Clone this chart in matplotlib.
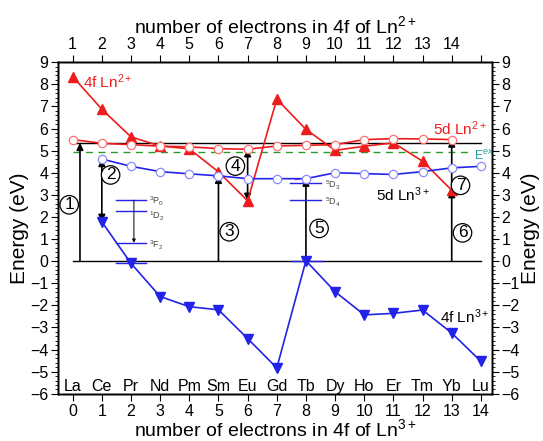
import matplotlib
matplotlib.use('Agg')
import matplotlib.pyplot as plt
from matplotlib.ticker import MultipleLocator
import numpy as np

plt.rcParams['font.family'] = ['Liberation Sans', 'DejaVu Sans']
plt.rcParams['mathtext.fontset'] = 'custom'
plt.rcParams['mathtext.rm'] = 'Liberation Sans'
plt.rcParams['mathtext.it'] = 'Liberation Sans:italic'

# data ------------------------------------------------------------
elements = ["La", "Ce", "Pr", "Nd", "Pm", "Sm", "Eu", "Gd",
            "Tb", "Dy", "Ho", "Er", "Tm", "Yb", "Lu"]
n_ln3 = list(range(15))
top_labels = [str(i) for i in range(1, 15)] + [""]

# 4f ground level of Ln2+ (La..Yb)
f4_ln2 = [8.35, 6.87, 5.62, 5.21, 5.08, 4.04, 2.73, 7.33,
          5.96, 5.01, 5.20, 5.35, 4.52, 3.21]
# lowest 5d level of Ln2+ (La..Yb)
d5_ln2 = [5.50, 5.33, 5.27, 5.20, 5.17, 5.09, 5.06, 5.21,
          5.24, 5.27, 5.50, 5.54, 5.53, 5.50]
# lowest 5d level of Ln3+ (Ce..Lu)
d5_ln3 = [4.62, 4.29, 4.05, 3.95, 3.86, 3.73, 3.73,
          3.73, 4.00, 3.96, 3.92, 4.05, 4.22, 4.29]
# 4f ground level of Ln3+ (Ce..Lu)
f4_ln3 = [1.78, -0.10, -1.60, -2.06, -2.20, -3.50, -4.83,
          0.02, -1.38, -2.43, -2.36, -2.21, -3.25, -4.53]

E_cb = 5.35      # black line
E_ex = 4.95      # green dashed line

# Pr3+ levels and Tb3+ levels
pr_levels = {"$^3$P$_0$": 2.76, "$^1$D$_2$": 2.26, "$^3$F$_2$": 0.83}
pr_ground = -0.10
tb_levels = {"$^5$D$_3$": 3.54, "$^5$D$_4$": 2.76}
tb_ground = 0.02

RED = '#ee1c1c'
BLUE = '#2323e8'

fig = plt.figure(figsize=(5.43, 4.41), dpi=100)
ax = fig.add_axes([0.107, 0.107, 0.799, 0.752])

x2 = n_ln3[:14]
x3 = n_ln3[1:]

ax.plot(x2, f4_ln2, color=RED, lw=1.2, marker='^', ms=6.5, zorder=4)
ax.plot(x2, d5_ln2, color=RED, lw=1.2, marker='o', ms=6,
        mfc='white', mec='#ff7070', mew=0.9, zorder=4)
ax.plot(x3, d5_ln3, color=BLUE, lw=1.2, marker='o', ms=6,
        mfc='white', mec='#8c8cff', mew=0.9, zorder=4)
ax.plot(x3, f4_ln3, color=BLUE, lw=1.2, marker='v', ms=6.5, zorder=4)

# reference lines
ax.plot([0, 14], [0, 0], color='k', lw=1.0, zorder=2)
ax.plot([0, 14], [E_cb, E_cb], color='k', lw=1.0, zorder=2)
ax.plot([0, 13.6], [E_ex, E_ex], color='#2a9a2a', lw=1.0, ls=(0, (5, 4)), zorder=2)
ax.text(13.75, 4.78, r"E$^{ex}$", color='#20a0a0', fontsize=9, va='center')


def arrow(x, y0, y1, style='-|>', lw=1.2, ms=10):
    ax.annotate('', xy=(x, y1), xytext=(x, y0),
                arrowprops=dict(arrowstyle=style, color='k', lw=lw,
                                shrinkA=0, shrinkB=0, mutation_scale=ms),
                zorder=3)


def circled(x, y, s):
    ax.text(x, y, s, fontsize=12.5, ha='center', va='center',
            bbox=dict(boxstyle='circle,pad=0.1', fc='white', ec='k', lw=0.9),
            zorder=5)


arrow(0.25, 0, E_cb)
arrow(1, d5_ln3[0], f4_ln3[0], style='<|-|>')
arrow(5, 0, d5_ln3[4])
arrow(6, f4_ln2[6], d5_ln2[6], style='<|-|>')
arrow(8, 0, d5_ln3[7])
arrow(13, 0, f4_ln2[13])
arrow(13, f4_ln2[13], d5_ln2[13])

circled(-0.12, 2.55, "1")
circled(1.3, 3.9, "2")
circled(5.37, 1.33, "3")
circled(5.58, 4.3, "4")
circled(8.45, 1.48, "5")
circled(13.37, 1.28, "6")
circled(13.3, 3.43, "7")

# Pr3+ levels
pr_offsets = {"$^3$P$_0$": -0.05, "$^1$D$_2$": -0.22, "$^3$F$_2$": -0.1}
for lab, e in pr_levels.items():
    ax.plot([1.5, 2.5], [e, e], color=BLUE, lw=1.0, zorder=3)
    ax.text(2.62, e + pr_offsets[lab], lab, fontsize=6.5, color='#444444', va='center')
ax.plot([1.5, 2.5], [pr_ground, pr_ground], color=BLUE, lw=1.0, zorder=3)
arrow(2.1, pr_levels["$^3$P$_0$"], pr_levels["$^3$F$_2$"], lw=0.7, ms=5)

# Tb3+ levels
for lab, e in tb_levels.items():
    ax.plot([7.47, 8.5], [e, e], color=BLUE, lw=1.0, zorder=3)
    ax.text(8.65, e - 0.1, lab, fontsize=6.5, color='#444444', va='center')
ax.plot([7.6, 7.95], [3.73, 3.73], color='#e040e0', lw=1.0, ls='--', zorder=3)
ax.plot([7.5, 8.55], [tb_ground, tb_ground], color=BLUE, lw=1.0, zorder=3)

# series labels
ax.text(0.35, 8.1, r"4f Ln$^{2+}$", color=RED, fontsize=11, va='center')
ax.text(12.35, 6.0, r"5d Ln$^{2+}$", color=RED, fontsize=11, va='center')
ax.text(10.4, 3.0, r"5d Ln$^{3+}$", color='k', fontsize=11, va='center')
ax.text(12.6, -2.5, r"4f Ln$^{3+}$", color='k', fontsize=11, va='center')

for i, el in enumerate(elements):
    ax.text(n_ln3[i], -5.65, el, ha='center', va='center', fontsize=11.5)

# axes ------------------------------------------------------------
ax.set_xlim(-0.5, 14.38)
ax.set_ylim(-6, 9)
ax.set_xticks(n_ln3)
ax.yaxis.set_major_locator(MultipleLocator(1))
ax.yaxis.set_minor_locator(MultipleLocator(0.2))
ax.tick_params(axis='both', which='major', labelsize=11.5, length=5, direction='out', pad=2)
ax.tick_params(axis='y', which='minor', length=2.5, direction='out')
ax.set_xlabel("number of electrons in 4f of Ln$^{3+}$", fontsize=14, labelpad=0)
ax.set_ylabel("Energy (eV)", fontsize=15, labelpad=1)

axr = ax.twinx()
axr.set_ylim(-6, 9)
axr.yaxis.set_major_locator(MultipleLocator(1))
axr.yaxis.set_minor_locator(MultipleLocator(0.2))
axr.tick_params(axis='y', which='major', labelsize=11.5, length=5, direction='out', pad=2)
axr.tick_params(axis='y', which='minor', length=2.5, direction='out')
axr.set_ylabel("Energy (eV)", fontsize=15, labelpad=1)

axt = ax.twiny()
axt.set_xlim(ax.get_xlim())
axt.set_xticks(n_ln3)
axt.set_xticklabels(top_labels)
axt.tick_params(axis='x', labelsize=11.5, length=5, direction='out', pad=2)
axt.set_xlabel("number of electrons in 4f of Ln$^{2+}$", fontsize=14, labelpad=3)

for a in (ax, axr, axt):
    for sp in a.spines.values():
        sp.set_linewidth(1.0)

fig.savefig("out.png", dpi=100)
